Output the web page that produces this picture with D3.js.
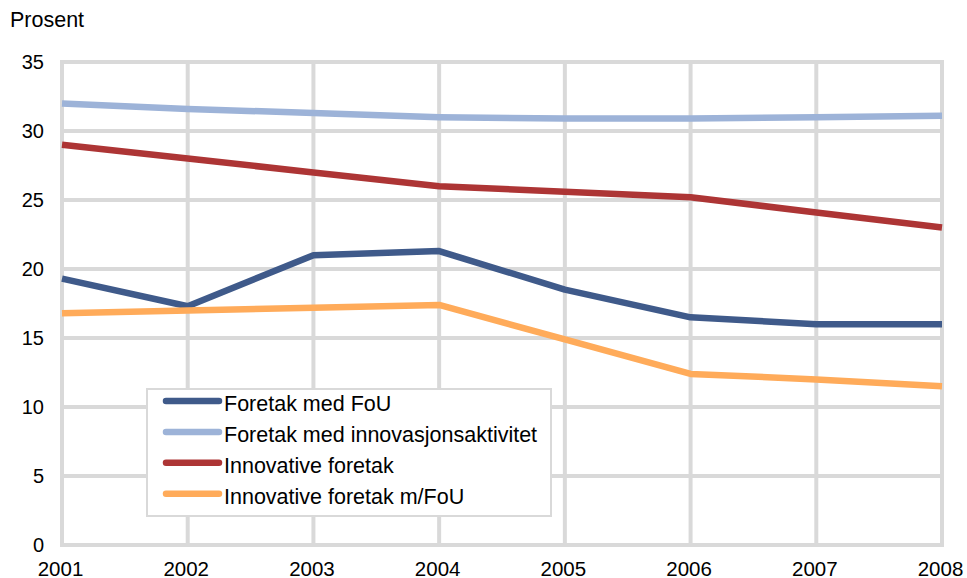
<!DOCTYPE html>
<html><head><meta charset="utf-8">
<script src="https://cdn.jsdelivr.net/npm/d3@7"></script>
<style>body{margin:0;background:#fff}svg{display:block;font-family:"Liberation Sans",Arial,sans-serif}</style>
</head><body><svg id="c" width="967" height="578"></svg>
<script>
const years = [2001,2002,2003,2004,2005,2006,2007,2008];
const yTicks = [0,5,10,15,20,25,30,35];
const seriesNames = ["Foretak med FoU","Foretak med innovasjonsaktivitet","Innovative foretak","Innovative foretak m/FoU"];
const foretakMedFoU = [19.3,17.3,21.0,21.3,18.5,16.5,16.0,16.0];
const foretakMedInnovasjon = [32.0,31.6,31.3,31.0,30.9,30.9,31.0,31.1];
const innovativeForetak = [29.0,28.0,27.0,26.0,25.6,25.2,24.1,23.0];
const innovativeMFoU = [16.8,17.0,17.2,17.4,14.9,12.4,12.0,11.5];
const colors = ["#3f5a8a","#9db3d8","#ad3535","#ffab5a"];
const seriesData = [foretakMedFoU, foretakMedInnovasjon, innovativeForetak, innovativeMFoU];

const svg = d3.select("#c");
const x = d3.scalePoint().domain(years).range([62,942]);
const y = d3.scaleLinear().domain([0,35]).range([545,62]);
const grid = "#d9d9d9";
const FF = "Liberation Sans, Arial, sans-serif";

// grid
svg.append("g").selectAll("line").data(yTicks).join("line")
  .attr("x1",60).attr("x2",944).attr("y1",d=>y(d)).attr("y2",d=>y(d))
  .attr("stroke",grid).attr("stroke-width",4);
svg.append("g").selectAll("line").data(years).join("line")
  .attr("x1",d=>x(d)).attr("x2",d=>x(d)).attr("y1",y(35)-2).attr("y2",y(0)+2)
  .attr("stroke",grid).attr("stroke-width",4);

// axes labels
const yAxis = d3.axisLeft(y).tickValues(yTicks).tickSize(0).tickPadding(0);
const ga = svg.append("g").attr("transform","translate(44,0)").call(yAxis);
ga.select(".domain").remove();
ga.selectAll("text").attr("font-size",20).attr("fill","#000").attr("font-family",FF);
const xAxis = d3.axisBottom(x).tickSize(0).tickPadding(0).tickFormat(d3.format("d"));
const gx = svg.append("g").attr("transform","translate(-2,561)").call(xAxis);
gx.select(".domain").remove();
gx.selectAll("text").attr("font-size",20.5).attr("fill","#000").attr("font-family",FF);

svg.append("text").attr("x",10).attr("y",27).attr("font-size",21.5).attr("font-family",FF).text("Prosent");

// lines
const line = d3.line().x((d,i)=>x(years[i])).y(d=>y(d));
seriesData.forEach((s,i)=>{
  svg.append("path").datum(s).attr("d",line).attr("fill","none")
    .attr("stroke",colors[i]).attr("stroke-width",6.5).attr("stroke-linejoin","round");
});

// legend
const lg = svg.append("g");
lg.append("rect").attr("x",147).attr("y",389).attr("width",404).attr("height",127)
  .attr("fill","#fff").attr("stroke",grid).attr("stroke-width",2);
seriesNames.forEach((n,i)=>{
  const yy = 401 + i*30.9;
  lg.append("line").attr("x1",166).attr("x2",219).attr("y1",yy).attr("y2",yy)
    .attr("stroke",colors[i]).attr("stroke-width",6.5).attr("stroke-linecap","round");
  lg.append("text").attr("x",224).attr("y",yy+10).attr("font-size",21.5).attr("font-family",FF).text(n);
});
</script></body></html>
